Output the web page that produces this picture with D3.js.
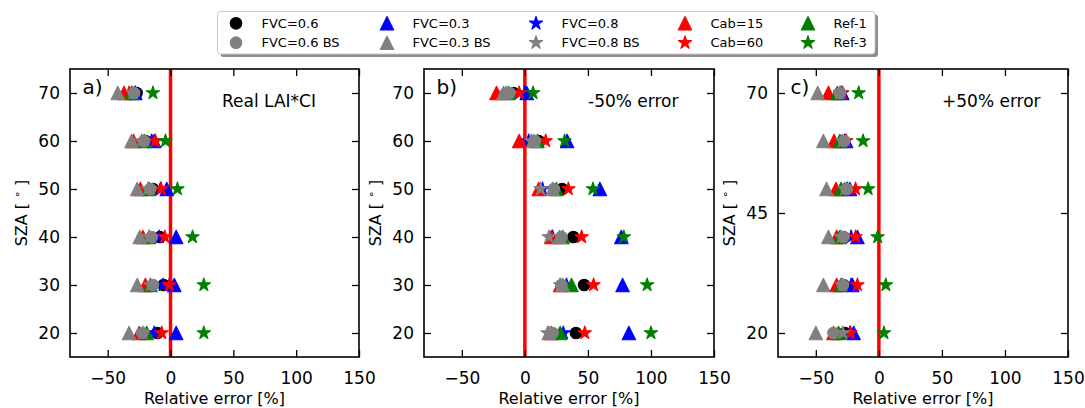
<!DOCTYPE html>
<html><head><meta charset="utf-8">
<script src="https://cdn.jsdelivr.net/npm/d3@7"></script>
<style>
body{margin:0;background:#fff}
svg{display:block}
text{font-family:"DejaVu Sans","Liberation Sans",sans-serif;fill:#000}
</style>
</head><body><div id="chart"></div>
<script>
// ---------------- data ----------------
const sza = [20, 30, 40, 50, 60, 70];
const xTicks = [-50, 0, 50, 100, 150];
const yTicksAB = [20, 30, 40, 50, 60, 70];
const yTicksC = [20, 45, 70];
const panelLabels = ["a)", "b)", "c)"];
const panelNotes = ["Real LAI*CI", "-50% error", "+50% error"];

const seriesNames  = ["FVC=0.6","FVC=0.6 BS","FVC=0.3","FVC=0.3 BS","FVC=0.8","FVC=0.8 BS","Cab=15","Cab=60","Ref-1","Ref-3"];
const seriesColors = ["#000000","#808080","#0000ff","#808080","#0000ff","#808080","#ff0000","#ff0000","#008000","#008000"];
const seriesShapes = ["circle","circle","triangle","triangle","star","star","triangle","star","triangle","star"];

// panel a) Real LAI*CI  (values at SZA 20..70)
const a_FVC06   = [-10.5, -5.5, -8.5, -14, -20, -27];
const a_FVC06BS = [-22.5, -14, -15, -16, -21, -29];
const a_FVC03   = [4.5, 3, 4.5, -3, -13, -28];
const a_FVC03BS = [-33, -26.5, -24.5, -26.5, -31, -42];
const a_FVC08   = [-13, -6, -9, -8, -15, -28];
const a_FVC08BS = [-22, -16, -17, -18, -23, -30];
const a_Cab15   = [-25, -20, -22, -24, -29.5, -37];
const a_Cab60   = [-7, -1, -4.5, -7.5, -12, -33];
const a_Ref1    = [-19, -16, -17, -17, -21, -31];
const a_Ref3    = [26.5, 26.5, 17.5, 5.5, -4, -14];

// panel b) -50% error
const b_FVC06   = [40.5, 47, 38.5, 29.5, 11, -9];
const b_FVC06BS = [22, 29, 29, 23, 8, -12];
const b_FVC03   = [82.5, 77.5, 76.5, 59.5, 33.5, 1.5];
const b_FVC03BS = [19, 30, 27.5, 22, 7, -17];
const b_FVC08   = [30.5, 33, 22, 14, 3, 0];
const b_FVC08BS = [18, 28, 19, 12.5, 5, -15];
const b_Cab15   = [21, 28, 21, 11, -4.5, -22.5];
const b_Cab60   = [47.5, 54.5, 45, 34.5, 16.5, -4.5];
const b_Ref1    = [28, 37, 30, 25, 10, -13];
const b_Ref3    = [100, 97, 78.5, 54, 31.5, 6.5];

// panel c) +50% error
const c_FVC06   = [-27, -28, -28, -26, -28, -31];
const c_FVC06BS = [-36, -28.5, -28, -25.5, -27.5, -31];
const c_FVC03   = [-20, -21, -17, -23, -26, -29];
const c_FVC03BS = [-50, -44, -40, -41.5, -44, -48.5];
const c_FVC08   = [-23, -22, -22, -25, -27, -30];
const c_FVC08BS = [-28.5, -29, -30, -27, -29, -31];
const c_Cab15   = [-36, -33.5, -33.5, -34, -35.5, -40];
const c_Cab60   = [-22.5, -17, -18.5, -18.5, -26, -29];
const c_Ref1    = [-32, -30, -31, -30, -31, -33];
const c_Ref3    = [4, 5.5, -1, -8.5, -12.5, -16];

const panelValues = [
  [a_FVC06, a_FVC06BS, a_FVC03, a_FVC03BS, a_FVC08, a_FVC08BS, a_Cab15, a_Cab60, a_Ref1, a_Ref3],
  [b_FVC06, b_FVC06BS, b_FVC03, b_FVC03BS, b_FVC08, b_FVC08BS, b_Cab15, b_Cab60, b_Ref1, b_Ref3],
  [c_FVC06, c_FVC06BS, c_FVC03, c_FVC03BS, c_FVC08, c_FVC08BS, c_Cab15, c_Cab60, c_Ref1, c_Ref3]
];
const panelYTicks = [yTicksAB, yTicksAB, yTicksC];

// ---------------- layout ----------------
const W = 1085, H = 408;
const panelX = [[70, 359], [424, 714], [778, 1068]];
const axTop = 69, axBottom = 357;
const drawOrder = [0, 2, 4, 6, 7, 8, 9, 1, 3, 5];

const svg = d3.select("#chart").append("svg").attr("width", W).attr("height", H);

const triangleType = {
  draw(ctx, size) {
    const h = Math.sqrt(size) / 2;
    ctx.moveTo(0, -h); ctx.lineTo(h, h); ctx.lineTo(-h, h); ctx.closePath();
  }
};
function symbolPath(shape) {
  if (shape === "circle") return d3.symbol(d3.symbolCircle, 105)();
  if (shape === "triangle") return d3.symbol(triangleType, 180)();
  return d3.symbol(d3.symbolStar, 55)();
}
function styleMarker(sel, color) {
  sel.attr("fill", color).attr("stroke", color).attr("stroke-width", 1.1).attr("stroke-linejoin", "round");
}

const y = d3.scaleLinear().domain([15, 75]).range([axBottom, axTop]);

panelX.forEach(([x0, x1], p) => {
  const x = d3.scaleLinear().domain([-80, 150]).range([x0, x1]);
  const g = svg.append("g");
  const fmt = d => d < 0 ? "\u2212" + Math.abs(d) : String(d);

  // zero line
  g.append("line").attr("x1", x(0)).attr("x2", x(0)).attr("y1", axTop).attr("y2", axBottom)
    .attr("stroke", "#ff0000").attr("stroke-width", 3.5);

  // markers
  drawOrder.forEach(si => {
    g.append("g").selectAll("path").data(panelValues[p][si]).join("path")
      .attr("d", symbolPath(seriesShapes[si]))
      .attr("transform", (v, i) => `translate(${x(v)},${y(sza[i])})`)
      .call(styleMarker, seriesColors[si]);
  });

  // axes (inward ticks on all sides)
  const tl = 7;
  g.append("g").attr("transform", `translate(0,${axBottom})`)
    .call(d3.axisBottom(x).tickValues(xTicks).tickSizeInner(-tl).tickSizeOuter(0).tickPadding(15).tickFormat(fmt))
    .call(s => { s.select(".domain").remove(); s.selectAll("text").attr("font-size", 17).style("font-family", "DejaVu Sans"); s.selectAll("line").attr("stroke-width", 1.3); });
  g.append("g").attr("transform", `translate(0,${axTop})`)
    .call(d3.axisTop(x).tickValues(xTicks).tickSizeInner(-tl).tickSizeOuter(0).tickFormat(""))
    .call(s => { s.select(".domain").remove(); s.selectAll("line").attr("stroke-width", 1.3); });
  g.append("g").attr("transform", `translate(${x0},0)`)
    .call(d3.axisLeft(y).tickValues(panelYTicks[p]).tickSizeInner(-tl).tickSizeOuter(0).tickPadding(10).tickFormat(d3.format("d")))
    .call(s => { s.select(".domain").remove(); s.selectAll("text").attr("font-size", 17).style("font-family", "DejaVu Sans"); s.selectAll("line").attr("stroke-width", 1.3); });
  g.append("g").attr("transform", `translate(${x1},0)`)
    .call(d3.axisRight(y).tickValues(panelYTicks[p]).tickSizeInner(-tl).tickSizeOuter(0).tickFormat(""))
    .call(s => { s.select(".domain").remove(); s.selectAll("line").attr("stroke-width", 1.3); });

  // frame
  g.append("rect").attr("x", x0).attr("y", axTop).attr("width", x1 - x0).attr("height", axBottom - axTop)
    .attr("fill", "none").attr("stroke", "#000").attr("stroke-width", 1.6);

  // labels
  g.append("text").attr("x", (x0 + x1) / 2).attr("y", 404).attr("text-anchor", "middle")
    .attr("font-size", 16).text("Relative error [%]");
  const yl = g.append("text").attr("transform", `translate(${x0 - 43},${(axTop + axBottom) / 2}) rotate(-90)`)
    .attr("text-anchor", "middle").attr("font-size", 16);
  yl.append("tspan").text("SZA [ ");
  yl.append("tspan").attr("dy", -6).attr("font-size", 11).text("\u2218");
  yl.append("tspan").attr("dy", 6).text(" ]");

  g.append("text").attr("x", x0 + 12.5).attr("y", 94).attr("font-size", 20).text(panelLabels[p]);
  g.append("text").attr("x", [222, 588, 942][p]).attr("y", 107).attr("font-size", 17).text(panelNotes[p]);
});

// ---------------- legend ----------------
const lg = svg.append("g");
const lx0 = 217.5, ly0 = 11.5, lx1 = 875, ly1 = 54;
lg.append("rect").attr("x", lx0 + 3).attr("y", ly0 + 3).attr("width", lx1 - lx0).attr("height", ly1 - ly0)
  .attr("rx", 3).attr("fill", "#8c8c8c");
lg.append("rect").attr("x", lx0).attr("y", ly0).attr("width", lx1 - lx0).attr("height", ly1 - ly0)
  .attr("rx", 3).attr("fill", "#fff").attr("stroke", "#c8c8c8").attr("stroke-width", 1);
const colMarkerX = [236, 387, 536, 685, 808];
const rowY = [23.3, 42.7];
seriesNames.forEach((name, i) => {
  const c = Math.floor(i / 2), r = i % 2;
  lg.append("path").attr("d", symbolPath(seriesShapes[i]))
    .attr("transform", `translate(${colMarkerX[c]},${rowY[r]})`).call(styleMarker, seriesColors[i]);
  lg.append("text").attr("x", colMarkerX[c] + 25.5).attr("y", rowY[r] + 4.6)
    .attr("font-size", 13).text(name);
});
</script>
</body></html>
